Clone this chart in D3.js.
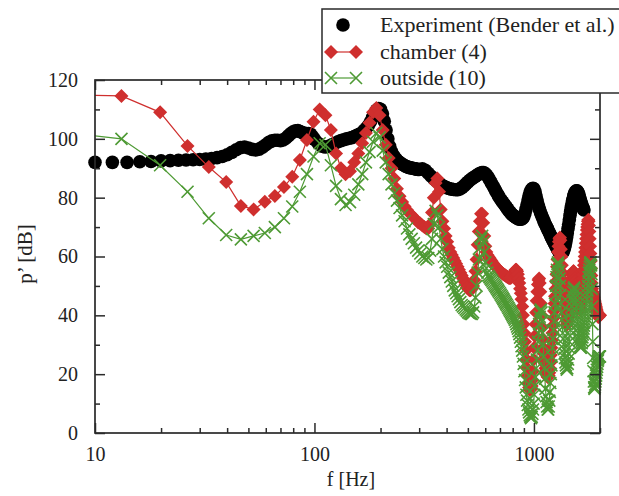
<!DOCTYPE html>
<html>
<head>
<meta charset="utf-8">
<script src="https://cdn.jsdelivr.net/npm/d3@7"></script>
<style>
  body { margin: 0; background: #fff; }
  svg { display: block; }
  text { font-family: 'Liberation Serif', 'DejaVu Serif', serif; fill: #222; }
</style>
</head>
<body>
<svg id="chart" width="619" height="496"></svg>
<script>
// measured spectrum, [frequency in Hz, level in dB]
const experiment = [
  [10,92],[12,92],[14,92],[16,92.2],[18,92.3],[20,92.5],[22,92.6],[24,92.7],[26,92.8],[28,92.9],
  [30,93],[32,93.1],[34,93.3],[36,93.6],[38,94],[40,94.6],[42,95.4],[44,96.3],[46,97],[48,97.2],
  [50,96.9],[52,96.4],[54,96.2],[56,96.5],[58,97.2],[60,98],[62,98.8],[64,99.3],[66,99.5],[68,99.5],
  [70,99.4],[72,99.6],[74,100.2],[76,101],[78,101.8],[80,102.4],[82,102.7],[84,102.8],[86,102.5],[88,102.1],
  [90,101.9],[92,101.8],[94,101.8],[96,101.6],[98,100.8],[100,99.8],
  [104,98.5],[108,97.5],[112,97.2],[116,97.5],[120,98],[124,98.5],[128,99],[132,99.4],[136,99.7],[140,100],
  [144,100.2],[148,100.4],[152,100.8],[156,101.2],[160,101.5],[164,102],[168,102.8],[172,103.6],[176,104.5],[180,105.8],
  [184,107.3],[188,108.7],[192,109.8],[196,110.3],[200,110],[204,108.5],[208,106],[212,103],[216,100],[220,97.5],
  [224,95.8],[228,94.6],[232,93.7],[236,93],[240,92.4],[244,92],[248,91.6],[252,91.3],[256,91],[260,90.7],
  [264,90.5],[268,90.3],[272,90.2],[276,90.1],[280,90],[284,89.9],[288,89.8],[292,89.7],[296,89.6],[300,89.6],
  [310,89.8],[320,89.3],[330,88.3],[340,87.3],[350,86.4],[360,85.6],[370,84.9],[380,84.3],[390,83.8],[400,83.4],
  [410,83.1],[420,82.9],[430,82.8],[440,82.7],[450,82.7],[460,83],[470,83.4],[480,84],[490,84.7],[500,85.3],
  [510,85.9],[520,86.4],[530,86.8],[540,87.2],[550,87.6],[560,88],[570,88.3],[580,88.5],[590,88.5],[600,88.2],
  [610,87.6],[620,86.8],[630,85.9],[640,85],[650,84.1],[660,83.2],[670,82.3],[680,81.4],[690,80.6],[700,79.8],
  [710,79.1],[720,78.5],[730,77.9],[740,77.3],[750,76.7],[760,76.1],[770,75.5],[780,75],[790,74.5],[800,74.1],
  [810,73.8],[820,73.5],[830,73.2],[840,73],[850,72.8],[860,72.7],[870,72.7],[880,72.8],[890,73],[900,73.6],
  [910,74.6],[920,76],[930,77.6],[940,79.2],[950,80.6],[960,81.7],[970,82.5],[980,83],[990,83.2],[1000,83],
  [1010,82.2],[1020,80.9],[1030,79.5],[1040,78.2],[1050,77],[1060,76],[1070,75.1],[1080,74.3],[1090,73.5],[1100,72.8],
  [1110,72.1],[1120,71.4],[1130,70.8],[1140,70.2],[1150,69.6],[1160,69],[1170,68.4],[1180,67.8],[1190,67.2],[1200,66.6],
  [1210,66],[1220,65.5],[1230,65],[1240,64.5],[1250,64],[1260,63.5],[1270,63],[1280,62.5],[1290,62.1],[1300,61.7],
  [1310,61.4],[1320,61.2],[1330,61.1],[1340,61.1],[1350,61.3],[1360,61.7],[1370,62.3],[1380,63.1],[1390,64.1],[1400,65.3],
  [1410,66.6],[1420,68],[1430,69.5],[1440,71],[1450,72.5],[1460,74],[1470,75.4],[1480,76.7],[1490,77.9],[1500,79],
  [1510,79.9],[1520,80.7],[1530,81.3],[1540,81.8],[1550,82.1],[1560,82.3],[1570,82.3],[1580,82.1],[1590,81.7],[1600,81.1],
  [1610,80.4],[1620,79.7],[1630,79],[1640,78.3],[1650,77.7],[1660,77.1],[1670,76.6],[1680,76.2],[1690,75.8]
];

// simulated spectra, sampled every SIM_DF Hz starting at SIM_DF
const SIM_DF = 6.6;
const chamber = [
  115,114.6,109,97.6,90.4,85.3,77.2,76,78.6,80.6,
  83.6,87.1,92.8,99.6,105.8,110,108,103,95,90,
  88,89,92,95,98.5,102,105.5,109,110.5,108,
  103,98,93.5,90,86.5,83,80.5,78.5,77,75.8,
  74.8,74,73.2,72.5,71.6,71.2,70.5,70,69.5,69.5,
  71,75,80,85,86.5,82,76,72,69.5,67,
  65,63,61.5,60.5,59.5,58.5,57.5,56.5,55.5,54.5,
  53.5,52.5,51.5,50.5,49.5,49,48.5,48.5,49,50,
  52,55,59,64,68.5,72,74.5,74.5,71.5,67,
  63.5,61.5,60.5,60,59.5,59,58.5,58,57.5,57,
  56.6,56.3,56,55.7,55.4,55.1,54.8,54.5,54.2,54,
  53.8,53.6,53.4,53.2,53,52.8,52.7,52.7,52.8,53.1,
  53.5,54,54.5,55,55.5,55.5,55,54,52.5,51,
  49,47.5,45.5,43,40,37,34,31,28,25,
  22,19.5,17,15.5,14.6,15,15,16,18,21,
  25,29,33,37,41,45,48,50.5,52,52.5,
  51,48,44,40,36,32,29,27,25,23.5,
  22,21,20,19.5,19,19,19.5,20.5,22,24,
  26.5,29,31.5,34,36.5,39,41.5,44,46.5,49,
  51.5,54,56.5,59,61.5,63.5,65,66,66.5,65.5,
  62.5,60,57,54.5,52,50,48,46,44,42,
  40.5,39,38,37,37,38,39.5,41,42.5,44,
  45.5,47,48.5,50,51.5,52.5,53.5,54.5,55,55,
  54.5,53.5,52.5,51.5,50.5,49.5,48.5,47.5,46.5,45.5,
  44.5,43.5,42.5,42,42,42.5,43.5,45,46.5,48,
  49.5,51,52.5,54,55.5,57,58.5,60,61.5,63,
  64.5,66,67.5,69,70,71,72,72.5,72,70.5,
  68.5,66,63.5,61,58.5,56,53.5,51,49,48,
  47.5,47,46.5,46,45.5,45,44.5,44,43.5,43,
  42.5,42,41.5,41,40.5,40,39.5,39.5,39.5,40,
  40,40,40
];
const outside = [
  102.5,100,91,82,73,67.3,65.8,67,68,70,
  73,77,82,88,94,98.5,98,91,84,79.5,
  77.5,78.5,81,84.5,88,92,95.5,99,102,100.5,
  96,92,88,84.5,81.5,79,76.5,74,72,69.5,
  67.5,66,64.5,63,62,61,60,59.5,59,59.5,
  62,66,71,75.5,74,70,66,62.5,60,58,
  56.5,54.5,53,51.5,50,48.5,47.5,46.5,45.5,44.5,
  43.5,43,42.5,42,41.5,41,40.7,40.5,40.5,41,
  43,46,50,54.5,59,63,66,67,65,61.5,
  58,56,54.5,53.5,53,52.5,52,51.5,51,50.5,
  50,49.5,49,48.5,48,47.5,47,46.5,46,45.5,
  45,44.5,44,43.5,43,42.5,42,41.5,41,40.5,
  40,39.5,39,38.5,37.8,37,36.2,35.5,34.6,33.6,
  32.4,31,29.5,28,26,23.5,21,18,15.5,13,
  11,9.5,8,7,6,5.5,5,5.5,6.5,8,
  10,13,16,19,22,25,28,31,34,37,
  39.5,41.5,42,41,38,34,30,26,22,18.5,
  15,12.5,10.5,9,8,8,9,11,14,17,
  20,23,26,29,32,35,38,41,44,47,
  50,53,55.5,57.5,58,57,55,52.5,50,47,
  44,41,38.5,36,34,32,30,28.5,27,25.5,
  24,23,22,21.5,22,23.5,25,27,29,31,
  33,35,37,39,41,43,45,46.5,48,49,
  49.5,49,47.5,46,44.5,43,41.5,40,38.5,37,
  35.5,34,32.5,31.5,30.5,29.5,29,29,29.5,30.5,
  31.5,32.5,33.5,34.5,35.5,36.5,37.5,38.5,39.5,40.5,
  41.5,42.5,44,45.5,47,48.5,50,51.5,53,54.5,
  55.5,56.5,57.5,58,58,57,54,49,43,37,
  31,25.5,21,17.5,15.5,15,15.5,16.5,17.5,18.5,
  19.5,20.5,21.5,22.5,23.5,24.5,25,25.5,26,26,
  26,26,26
];

const yTicks = [0, 20, 40, 60, 80, 100, 120];
const yMinorTicks = [10, 30, 50, 70, 90, 110];
const xTicks = [10, 100, 1000];
const legendItems = ['Experiment (Bender et al.)', 'chamber (4)', 'outside (10)'];

const BLACK = '#000';
const RED = '#cf2f2e';
const GREEN = '#4e9a34';
const FRAME = '#2a2a2a';

const svg = d3.select('#chart');
const plot = { left: 95, right: 600, top: 80, bottom: 433 };

const xScale = d3.scaleLog()
  .domain([10, 2000])
  .range([plot.left, plot.right]);

const yScale = d3.scaleLinear()
  .domain([0, 120])
  .range([plot.bottom, plot.top]);

// lines start below 10 Hz, so cut them at the left axis and at the top
svg.append('clipPath').attr('id', 'clip')
  .append('rect')
  .attr('x', plot.left).attr('y', plot.top)
  .attr('width', 619 - plot.left).attr('height', 496 - plot.top);

// Experiment

svg.append('g').selectAll('circle')
  .data(experiment)
  .enter()
  .append('circle')
  .attr('cx', d => xScale(d[0]))
  .attr('cy', d => yScale(d[1]))
  .attr('r', 6.8)
  .attr('fill', BLACK);

// Simulations

const simPoints = arr => arr.map((v, i) => [SIM_DF * (i + 1), v]);
const line = d3.line().x(d => xScale(d[0])).y(d => yScale(d[1]));

const diamond = (cx, cy, h) => `M${cx},${cy - h}L${cx + h},${cy}L${cx},${cy + h}L${cx - h},${cy}Z`;
const cross = (cx, cy, h) => `M${cx - h},${cy - h}L${cx + h},${cy + h}M${cx - h},${cy + h}L${cx + h},${cy - h}`;

const sims = svg.append('g').attr('clip-path', 'url(#clip)');

const chamberPts = simPoints(chamber);
sims.append('path')
  .attr('d', line(chamberPts))
  .attr('fill', 'none')
  .attr('stroke', RED)
  .attr('stroke-width', 1.2);
sims.append('g').selectAll('path')
  .data(chamberPts.filter(d => d[0] >= 10))
  .enter()
  .append('path')
  .attr('d', d => diamond(xScale(d[0]), yScale(d[1]), 7))
  .attr('fill', RED);

const outsidePts = simPoints(outside);
sims.append('path')
  .attr('d', line(outsidePts))
  .attr('fill', 'none')
  .attr('stroke', GREEN)
  .attr('stroke-width', 1.2);
sims.append('g').selectAll('path')
  .data(outsidePts.filter(d => d[0] >= 10))
  .enter()
  .append('path')
  .attr('d', d => cross(xScale(d[0]), yScale(d[1]), 6))
  .attr('fill', 'none')
  .attr('stroke', GREEN)
  .attr('stroke-width', 1.6);

// Axes

const xMinor = xScale.ticks().filter(t => !xTicks.includes(t));

const styleAxis = g => {
  g.select('.domain').remove();
  g.selectAll('line').attr('stroke', FRAME).attr('stroke-width', 1.5);
  g.selectAll('text').attr('font-size', '20px').attr('fill', '#222')
    .attr('font-family', "'Liberation Serif', 'DejaVu Serif', serif");
};

svg.append('g')
  .attr('transform', `translate(${plot.left},0)`)
  .call(d3.axisLeft(yScale).tickValues(yTicks).tickSizeInner(-10).tickSizeOuter(0).tickPadding(17))
  .call(styleAxis);
svg.append('g')
  .attr('transform', `translate(${plot.left},0)`)
  .call(d3.axisLeft(yScale).tickValues(yMinorTicks).tickSizeInner(-5).tickSizeOuter(0).tickFormat(''))
  .call(styleAxis);
svg.append('g')
  .attr('transform', `translate(${plot.right},0)`)
  .call(d3.axisRight(yScale).tickValues(yTicks).tickSizeInner(-10).tickSizeOuter(0).tickFormat(''))
  .call(styleAxis);
svg.append('g')
  .attr('transform', `translate(${plot.right},0)`)
  .call(d3.axisRight(yScale).tickValues(yMinorTicks).tickSizeInner(-5).tickSizeOuter(0).tickFormat(''))
  .call(styleAxis);

svg.append('g')
  .attr('transform', `translate(0,${plot.bottom})`)
  .call(d3.axisBottom(xScale).tickValues(xTicks).tickFormat(d3.format('d')).tickSizeInner(-10).tickSizeOuter(0).tickPadding(14))
  .call(styleAxis);
svg.append('g')
  .attr('transform', `translate(0,${plot.bottom})`)
  .call(d3.axisBottom(xScale).tickValues(xMinor).tickSizeInner(-5).tickSizeOuter(0).tickFormat(''))
  .call(styleAxis);
svg.append('g')
  .attr('transform', `translate(0,${plot.top})`)
  .call(d3.axisTop(xScale).tickValues(xTicks).tickSizeInner(-10).tickSizeOuter(0).tickFormat(''))
  .call(styleAxis);
svg.append('g')
  .attr('transform', `translate(0,${plot.top})`)
  .call(d3.axisTop(xScale).tickValues(xMinor).tickSizeInner(-5).tickSizeOuter(0).tickFormat(''))
  .call(styleAxis);

svg.append('rect')
  .attr('x', plot.left).attr('y', plot.top)
  .attr('width', plot.right - plot.left).attr('height', plot.bottom - plot.top)
  .attr('fill', 'none')
  .attr('stroke', FRAME)
  .attr('stroke-width', 1.7);

// Labels

svg.append('text')
  .attr('x', 351).attr('y', 486)
  .attr('text-anchor', 'middle')
  .attr('font-size', '20px')
  .text('f [Hz]');

svg.append('text')
  .attr('transform', 'translate(32,254) rotate(-90)')
  .attr('text-anchor', 'middle')
  .attr('font-size', '21px')
  .text('p’ [dB]');

// Legend

const legend = svg.append('g').attr('class', 'legend');
legend.append('rect')
  .attr('x', 322).attr('y', 9)
  .attr('width', 320).attr('height', 84)
  .attr('fill', '#fff')
  .attr('stroke', FRAME)
  .attr('stroke-width', 1.5);

const rowY = [25, 52, 78];
legend.append('circle').attr('cx', 343).attr('cy', rowY[0]).attr('r', 6.8).attr('fill', BLACK);

legend.append('line').attr('x1', 331).attr('x2', 356).attr('y1', rowY[1]).attr('y2', rowY[1])
  .attr('stroke', RED).attr('stroke-width', 1.2);
[331, 356].forEach(cx => legend.append('path').attr('d', diamond(cx, rowY[1], 7)).attr('fill', RED));

legend.append('line').attr('x1', 331).attr('x2', 356).attr('y1', rowY[2]).attr('y2', rowY[2])
  .attr('stroke', GREEN).attr('stroke-width', 1.2);
[331, 356].forEach(cx => legend.append('path').attr('d', cross(cx, rowY[2], 6))
  .attr('fill', 'none').attr('stroke', GREEN).attr('stroke-width', 1.6));

legend.selectAll('text.item')
  .data(legendItems)
  .enter()
  .append('text')
  .attr('class', 'item')
  .attr('x', 380)
  .attr('y', (_d, i) => rowY[i] + 7)
  .attr('font-size', '22px')
  .text(d => d);
</script>
</body>
</html>
